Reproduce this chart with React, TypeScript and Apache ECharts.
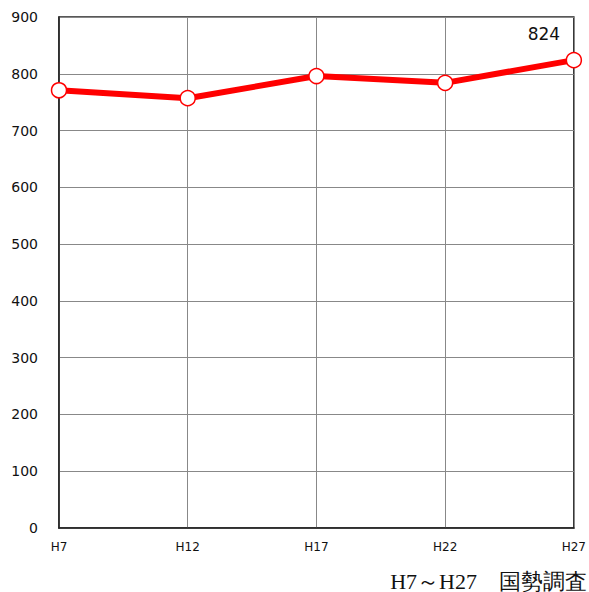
import React, { useEffect, useRef } from "react";
import * as echarts from "echarts";

const years = ["H7", "H12", "H17", "H22", "H27"];
const households = [771, 757, 796, 784, 824];
const yTicks = { min: 0, max: 900, interval: 100 };
const sourceNote = "H7～H27　国勢調査";

export default function App() {
  const ref = useRef<HTMLDivElement>(null);

  useEffect(() => {
    document.body.style.margin = "0";
    document.body.style.overflow = "hidden";
    if (!ref.current) return;
    const chart = echarts.init(ref.current, null, { renderer: "svg" });
    const lastIdx = households.length - 1;
    chart.setOption({
      animation: false,
      backgroundColor: "#ffffff",
      grid: { left: 59, right: 12, top: 17, bottom: 64, show: true, borderColor: "#222", borderWidth: 1.5 },
      xAxis: {
        type: "category",
        data: years,
        boundaryGap: false,
        axisLine: { show: true, lineStyle: { color: "#222", width: 1.5 } },
        axisTick: { show: false },
        axisLabel: { color: "#111", fontSize: 12, fontFamily: "DejaVu Sans, sans-serif", margin: 13 },
        splitLine: { show: true, lineStyle: { color: "#888", width: 1 } },
      },
      yAxis: {
        type: "value",
        min: yTicks.min,
        max: yTicks.max,
        interval: yTicks.interval,
        axisLine: { show: true, lineStyle: { color: "#222", width: 1.5 } },
        axisTick: { show: false },
        axisLabel: { color: "#111", fontSize: 14, fontFamily: "DejaVu Sans, sans-serif", margin: 21 },
        splitLine: { show: true, lineStyle: { color: "#888", width: 1 } },
      },
      series: [
        {
          type: "line",
          data: households.map((v, i) =>
            i === lastIdx
              ? {
                  value: v,
                  label: {
                    show: true,
                    position: "top",
                    offset: [-30, -4],
                    formatter: String(v),
                    color: "#111",
                    fontSize: 17,
                    fontFamily: "DejaVu Sans, sans-serif",
                  },
                }
              : v
          ),
          symbol: "circle",
          symbolSize: 15,
          showAllSymbol: true,
          lineStyle: { color: "#ff0000", width: 6 },
          itemStyle: { color: "#ffffff", borderColor: "#ff0000", borderWidth: 1.5 },
          z: 3,
        },
      ],
      graphic: [
        {
          type: "text",
          right: 2,
          top: 570,
          style: {
            text: sourceNote,
            fontSize: 22,
            fontFamily: "Liberation Serif, DejaVu Serif, serif",
            fill: "#111",
          },
        },
      ],
    });
    return () => chart.dispose();
  }, []);

  return (
    <div
      ref={ref}
      style={{ position: "absolute", left: 0, top: 0, width: 589, height: 592 }}
    />
  );
}
